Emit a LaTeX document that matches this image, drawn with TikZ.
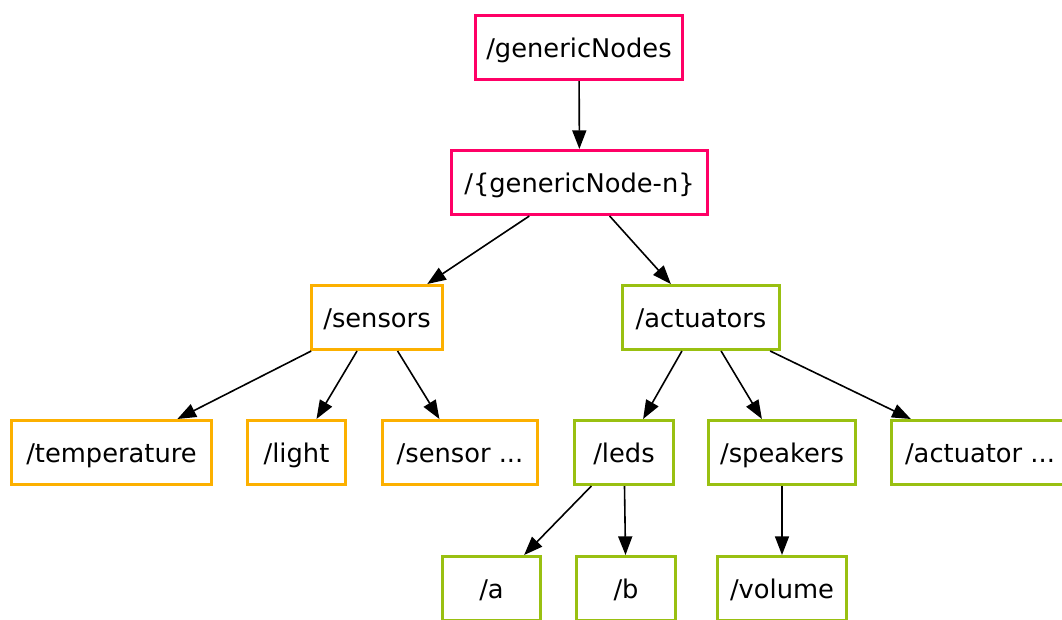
\documentclass[tikz,border=0pt]{standalone}
\usepackage{fontspec}
\setmainfont{DejaVu Sans}
\usetikzlibrary{arrows.meta}
\definecolor{pinkline}{RGB}{255,0,102}
\definecolor{orangeline}{RGB}{252,176,0}
\definecolor{greenline}{RGB}{153,192,17}
\tikzset{
	box/.style={draw, line width=2.25pt, rectangle, minimum height=48pt, inner sep=0pt, text height=15pt, text depth=0pt, font=\fontsize{19.3pt}{23pt}\selectfont},
	pinkbox/.style={box, draw=pinkline},
	orangebox/.style={box, draw=orangeline},
	greenbox/.style={box, draw=greenline},
	edge/.style={line width=1.2pt, -{Triangle[length=14pt,width=10.5pt]}}
}
\begin{document}
\begin{tikzpicture}[x=0.75pt,y=0.75pt,yscale=-1,xscale=1]
		\useasboundingbox (0,0) rectangle (1062,619);
		\clip (0,0) rectangle (1062,619);
		\node [pinkbox, minimum width=155.25pt] (gn) at (579,47.5) {/genericNodes};
		\node [pinkbox, minimum width=192pt] (gnn) at (579.5,182.5) {/\{genericNode-n\}};
		\node [orangebox, minimum width=98.25pt] (sensors) at (377,317.5) {/sensors};
		\node [greenbox, minimum width=117.75pt] (actuators) at (701,317.5) {/actuators};
		\node [orangebox, minimum width=150pt] (temperature) at (111.5,452.5) {/temperature};
		\node [orangebox, minimum width=73.5pt] (light) at (296.5,452.5) {/light};
		\node [orangebox, minimum width=116.25pt] (sensorx) at (460,452.5) {/sensor ...};
		\node [greenbox, minimum width=74.25pt] (leds) at (624,452.5) {/leds};
		\node [greenbox, minimum width=110.25pt] (speakers) at (782,452.5) {/speakers};
		\node [greenbox, minimum width=132.75pt] (actuatorx) at (980,452.5) {/actuator ...};
		\node [greenbox, minimum width=73.5pt] (a) at (491.5,588.5) {/a};
		\node [greenbox, minimum width=74.25pt] (b) at (626,588.5) {/b};
		\node [greenbox, minimum width=96.75pt] (volume) at (782,588.5) {/volume};
		\draw [edge] (gn) -- (gnn);
		\draw [edge] (gnn) -- (sensors);
		\draw [edge] (gnn) -- (actuators);
		\draw [edge] (sensors) -- (temperature);
		\draw [edge] (sensors) -- (light);
		\draw [edge] (sensors) -- (sensorx);
		\draw [edge] (actuators) -- (leds);
		\draw [edge] (actuators) -- (speakers);
		\draw [edge] (actuators) -- (actuatorx);
		\draw [edge] (leds) -- (a);
		\draw [edge] (leds) -- (b);
		\draw [edge] (speakers) -- (volume);
		\end{tikzpicture}
\end{document}
